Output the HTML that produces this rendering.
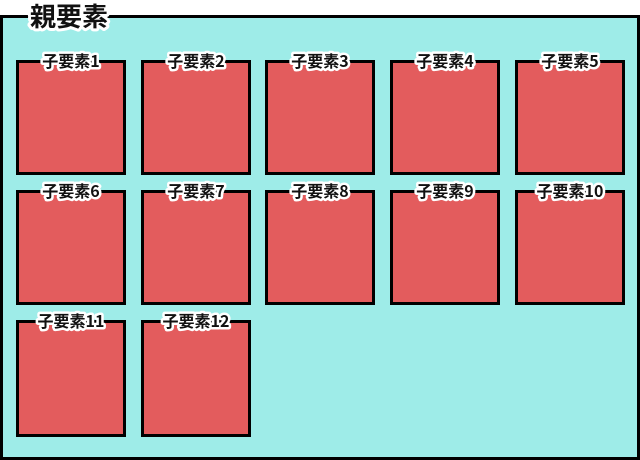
<!DOCTYPE html>
<html><head><meta charset="utf-8"><style>
html,body{margin:0;padding:0;background:#fff;width:640px;height:460px;overflow:hidden}
text{font-family:"Noto Sans CJK JP","Liberation Sans",sans-serif;font-weight:bold;paint-order:stroke;stroke:#fff;stroke-linejoin:round;fill:#111}
</style></head><body>
<svg width="640" height="460" xmlns="http://www.w3.org/2000/svg">
<rect x="1.5" y="16.5" width="637" height="442" fill="#9eece8" stroke="#000" stroke-width="3"/>
<text x="69" y="26" font-size="26" text-anchor="middle" stroke-width="6">親要素</text>
<g fill="#e35c5d" stroke="#000" stroke-width="3">
<rect x="17.5" y="61.5" width="107" height="112"/>
<rect x="142.5" y="61.5" width="107" height="112"/>
<rect x="266.5" y="61.5" width="107" height="112"/>
<rect x="391.5" y="61.5" width="107" height="112"/>
<rect x="516.5" y="61.5" width="107" height="112"/>
<rect x="17.5" y="191.5" width="107" height="112"/>
<rect x="142.5" y="191.5" width="107" height="112"/>
<rect x="266.5" y="191.5" width="107" height="112"/>
<rect x="391.5" y="191.5" width="107" height="112"/>
<rect x="516.5" y="191.5" width="107" height="112"/>
<rect x="17.5" y="321.5" width="107" height="114"/>
<rect x="142.5" y="321.5" width="107" height="114"/>
</g>
<g font-size="16" text-anchor="middle" stroke-width="5">
<text x="71" y="67">子要素1</text>
<text x="196" y="67">子要素2</text>
<text x="320" y="67">子要素3</text>
<text x="445" y="67">子要素4</text>
<text x="570" y="67">子要素5</text>
<text x="71" y="197">子要素6</text>
<text x="196" y="197">子要素7</text>
<text x="320" y="197">子要素8</text>
<text x="445" y="197">子要素9</text>
<text x="570" y="197">子要素10</text>
<text x="71" y="327">子要素11</text>
<text x="196" y="327">子要素12</text>
</g>
</svg>
</body></html>
